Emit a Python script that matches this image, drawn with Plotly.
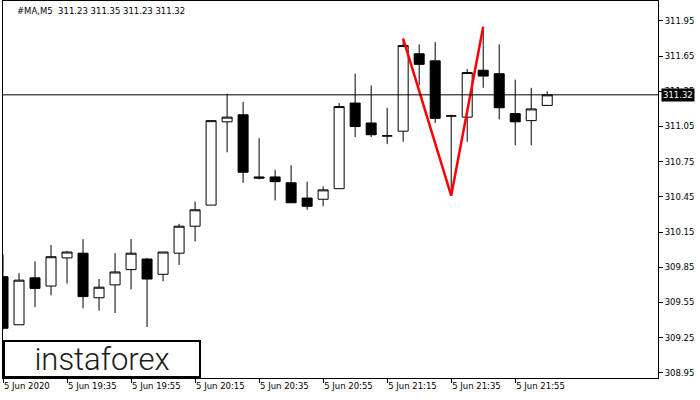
import plotly.graph_objects as go

# ---- data ----
times = ["19:15", "19:20", "19:25", "19:30", "19:35", "19:40", "19:45", "19:50", "19:55",
         "20:00", "20:05", "20:10", "20:15", "20:20", "20:25", "20:30", "20:35", "20:40",
         "20:45", "20:50", "20:55", "21:00", "21:05", "21:10", "21:15", "21:20", "21:25",
         "21:30", "21:35", "21:40", "21:45", "21:50", "21:55", "22:00", "22:05"]
opens = [309.77, 309.36, 309.76, 309.69, 309.93, 309.97, 309.59, 309.70, 309.83, 309.92,
         309.79, 309.97, 310.20, 310.38, 311.09, 311.15, 310.62, 310.62, 310.57, 310.44,
         310.43, 310.52, 311.25, 311.08, 310.97, 311.01, 311.67, 311.61, 311.14, 311.13,
         311.53, 311.50, 311.16, 311.10, 311.23]
highs = [309.96, 309.80, 309.90, 310.04, 309.99, 310.09, 309.75, 309.97, 310.09, 309.93,
         309.98, 310.22, 310.41, 311.10, 311.33, 311.26, 310.95, 310.68, 310.72, 310.58,
         310.54, 311.25, 311.50, 311.40, 311.21, 311.80, 311.75, 311.77, 311.15, 311.54,
         311.90, 311.75, 311.45, 311.38, 311.35]
lows = [309.32, 309.36, 309.51, 309.61, 309.71, 309.50, 309.48, 309.46, 309.66, 309.34,
        309.73, 309.87, 310.07, 310.38, 310.83, 310.57, 310.60, 310.42, 310.40, 310.34,
        310.37, 310.52, 310.96, 310.96, 310.90, 310.92, 311.40, 311.08, 310.46, 310.92,
        311.38, 311.11, 310.89, 310.89, 311.23]
closes = [309.33, 309.74, 309.67, 309.94, 309.98, 309.60, 309.68, 309.81, 309.97, 309.75,
          309.98, 310.20, 310.34, 311.10, 311.13, 310.66, 310.61, 310.58, 310.40, 310.37,
          310.51, 311.22, 311.05, 310.98, 310.97, 311.74, 311.58, 311.12, 311.14, 311.51,
          311.48, 311.21, 311.09, 311.20, 311.32]

pattern_times = ["21:20", "21:35", "21:45"]
pattern_prices = [311.80, 310.46, 311.90]

tick_times = ["19:15", "19:35", "19:55", "20:15", "20:35", "20:55", "21:15", "21:35", "21:55"]
tick_labels = ["5 Jun 2020", "5 Jun 19:35", "5 Jun 19:55", "5 Jun 20:15", "5 Jun 20:35",
               "5 Jun 20:55", "5 Jun 21:15", "5 Jun 21:35", "5 Jun 21:55"]
price_ticks = [308.95, 309.25, 309.55, 309.85, 310.15, 310.45, 310.75, 311.05, 311.35, 311.65, 311.95]
last_price = 311.32
header = "#MA,M5  311.23 311.35 311.23 311.32"

# ---- build ----
xpos = list(range(len(times)))
tpos = [times.index(t) for t in tick_times]
ppos = [times.index(t) for t in pattern_times]

FONT = "DejaVu Sans"

fig = go.Figure()
fig.add_trace(go.Candlestick(
    x=xpos, open=opens, high=highs, low=lows, close=closes,
    increasing=dict(fillcolor="white", line=dict(color="black", width=1)),
    decreasing=dict(fillcolor="black", line=dict(color="black", width=1)),
    whiskerwidth=0, showlegend=False, hoverinfo="skip",
))
fig.add_trace(go.Scatter(
    x=ppos, y=pattern_prices, mode="lines",
    line=dict(color="#ff0000", width=2.5), showlegend=False, hoverinfo="skip",
))

fig.add_hline(y=last_price, line=dict(color="black", width=1))

fig.update_layout(
    width=700, height=400,
    margin=dict(l=3, r=42, t=1, b=22, autoexpand=False),
    paper_bgcolor="white", plot_bgcolor="white",
    boxgap=0.375, boxgroupgap=0,
    font=dict(family=FONT, size=8.5, color="black"),
    showlegend=False,
    xaxis=dict(
        range=[0, 40.92], rangeslider=dict(visible=False),
        tickvals=tpos, ticktext=tick_labels,
        ticks="outside", ticklen=4, tickcolor="black",
        ticklabelposition="outside right",
        showgrid=False, zeroline=False,
        showline=True, linecolor="black", linewidth=1, mirror=True,
        tickfont=dict(family=FONT, size=8.5, color="black"),
    ),
    yaxis=dict(
        side="right", range=[308.906, 312.12],
        tickvals=price_ticks, ticktext=[f"{v:.2f}" for v in price_ticks],
        ticks="outside", ticklen=4, tickcolor="black",
        showgrid=False, zeroline=False,
        showline=True, linecolor="black", linewidth=1, mirror=True,
        tickfont=dict(family=FONT, size=8.5, color="black"),
    ),
)

fig.add_annotation(
    xref="paper", yref="paper", x=0, y=1, xanchor="left", yanchor="top",
    xshift=12, yshift=-3, text=header, showarrow=False,
    font=dict(family=FONT, size=8.5, color="black"),
)
fig.add_annotation(
    xref="paper", yref="y", x=1, y=last_price, xanchor="left", yanchor="middle",
    xshift=3, text=f"{last_price:.2f}", showarrow=False,
    bgcolor="black", borderpad=1,
    font=dict(family=FONT, size=8.5, color="white"),
)
fig.add_annotation(
    xref="paper", yref="paper", x=0, y=0, xanchor="left", yanchor="bottom",
    width=194, height=34, text="instaforex", showarrow=False,
    bgcolor="white", bordercolor="black", borderwidth=2, borderpad=0,
    font=dict(family="Roboto", size=31, color="#1a1a1a", weight=300),
)

fig.write_html("out.html", config={"displayModeBar": False},
               post_script="document.body.style.margin='0';")
